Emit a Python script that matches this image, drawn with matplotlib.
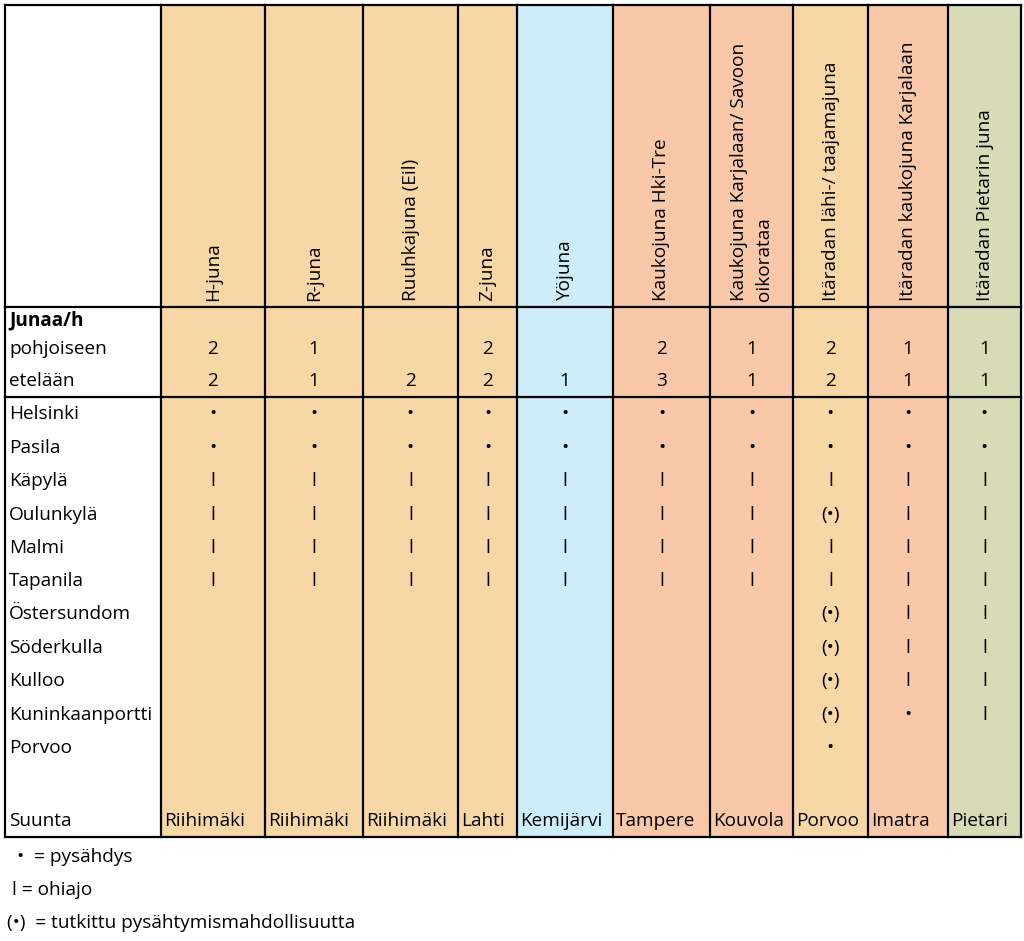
import matplotlib
matplotlib.use("Agg")
from matplotlib import pyplot as plt

plt.rcParams['font.family'] = ['Open Sans', 'DejaVu Sans']

# column headers (rotated) and their colours
trains = ['H-juna', 'R-juna', 'Ruuhkajuna (Eil)', 'Z-juna', 'Yöjuna', 'Kaukojuna Hki-Tre',
          'Kaukojuna Karjalaan/ Savoon\noikorataa', 'Itäradan lähi-/ taajamajuna',
          'Itäradan kaukojuna Karjalaan', 'Itäradan Pietarin juna']
colors = ['#f8d7a6', '#f8d7a6', '#f8d7a6', '#f8d7a6', '#cdedfa', '#f8c8a8',
          '#f8c8a8', '#f8d7a6', '#f8c8a8', '#d8dcb6']
north = ['2', '1', '', '2', '', '2', '1', '2', '1', '1']
south = ['2', '1', '2', '2', '1', '3', '1', '2', '1', '1']
stations = ['Helsinki', 'Pasila', 'Käpylä', 'Oulunkylä', 'Malmi', 'Tapanila',
            'Östersundom', 'Söderkulla', 'Kulloo', 'Kuninkaanportti', 'Porvoo']
B, L, P = '•', 'l', '(•)'
basic = [B, B, L, L, L, L, '', '', '', '', '']
stops = [basic, basic, basic, basic, basic, basic, basic,
         [B, B, L, P, L, L, P, P, P, P, B],
         [B, B, L, L, L, L, L, L, L, B, ''],
         [B, B, L, L, L, L, L, L, L, L, '']]
dest = ['Riihimäki', 'Riihimäki', 'Riihimäki', 'Lahti', 'Kemijärvi', 'Tampere',
        'Kouvola', 'Porvoo', 'Imatra', 'Pietari']
legend = ['•  = pysähdys', 'l = ohiajo', '(•)  = tutkittu pysähtymismahdollisuutta']

# layout in pixels
edges = [5, 161, 265, 363, 458, 517, 613, 710, 793, 868, 948, 1021]
top, head_bot, mid, bottom = 5, 307, 397, 837
station_y = [414, 448, 481, 515, 548, 581, 614, 648, 681, 715, 748]
fs = 13.7

fig = plt.figure(figsize=(10.24, 9.41), dpi=100)
ax = fig.add_axes([0, 0, 1, 1])
ax.set_xlim(0, 1024)
ax.set_ylim(941, 0)
ax.axis('off')

lefts = edges[1:-1]
widths = [edges[i + 1] - edges[i] for i in range(1, len(edges) - 1)]
ax.bar(lefts, bottom - top, width=widths, bottom=top, align='edge', color=colors, zorder=0)

lw = 1.6
for x in edges:
    ax.plot([x, x], [top, bottom], color='black', lw=lw, zorder=2)
for y in [top, head_bot, mid, bottom]:
    ax.plot([edges[0], edges[-1]], [y, y], color='black', lw=lw, zorder=2)

for i, name in enumerate(trains):
    cx = (edges[i + 1] + edges[i + 2]) / 2
    ax.text(cx, 301, name, rotation=90, ha='center', va='bottom', fontsize=fs,
            multialignment='left', linespacing=1.55)
    ax.text(cx, 349, north[i], ha='center', va='center', fontsize=fs)
    ax.text(cx, 381, south[i], ha='center', va='center', fontsize=fs)
    for y, s in zip(station_y, stops[i]):
        ax.text(cx, y, s, ha='center', va='center', fontsize=fs)
    ax.text(edges[i + 1] + 3, 821, dest[i], ha='left', va='center', fontsize=fs)

ax.text(9, 320, 'Junaa/h', ha='left', va='center', fontsize=fs, fontweight='bold')
ax.text(9, 349, 'pohjoiseen', ha='left', va='center', fontsize=fs)
ax.text(9, 381, 'etelään', ha='left', va='center', fontsize=fs)
for y, s in zip(station_y, stations):
    ax.text(9, y, s, ha='left', va='center', fontsize=fs)
ax.text(9, 821, 'Suunta', ha='left', va='center', fontsize=fs)

for txt, y, x in zip(legend, [857, 890, 923], [17, 12, 7]):
    ax.text(x, y, txt, ha='left', va='center', fontsize=fs)

fig.savefig('out.png', dpi=100)
